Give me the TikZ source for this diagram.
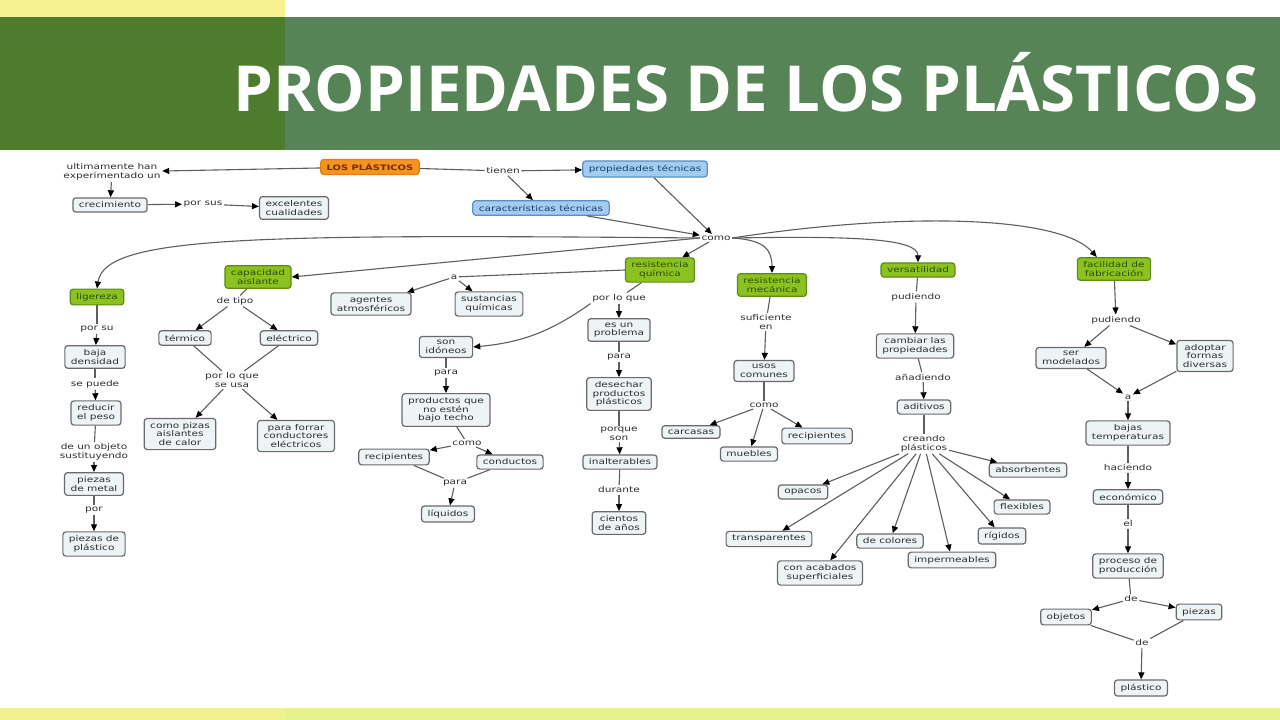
\documentclass[tikz,border=0pt]{standalone}
\usepackage{fontspec}
\usetikzlibrary{arrows.meta}
\newfontfamily\mapfont[FakeStretch=1.32]{DejaVu Sans}
\newfontfamily\titlefont{Open Sans}
\definecolor{hdrdark}{HTML}{4C7C2C}
\definecolor{hdrgreen}{HTML}{568456}
\definecolor{hdryellow}{HTML}{F5F290}
\definecolor{botyellow}{HTML}{E6F38C}
\definecolor{botyellowL}{HTML}{F1F28E}
\definecolor{boxfill}{HTML}{EEF3F6}
\definecolor{boxdraw}{HTML}{6A6A6A}
\definecolor{txtgray}{HTML}{2E2E2E}
\definecolor{greenfill}{HTML}{8CC21F}
\definecolor{greendraw}{HTML}{5C8A18}
\definecolor{greentxt}{HTML}{2C4F0C}
\definecolor{bluefill}{HTML}{A2CCF2}
\definecolor{bluedraw}{HTML}{5A8EC4}
\definecolor{bluetxt}{HTML}{1E3F6A}
\definecolor{orangefill}{HTML}{F7941E}
\definecolor{orangedraw}{HTML}{E5820F}
\definecolor{orangetxt}{HTML}{6A3000}
\definecolor{linegray}{HTML}{5E5E5E}
\tikzset{
 mapfnt/.style={font=\mapfont\fontsize{8}{8.5}\selectfont},
 concept/.style={mapfnt, draw=boxdraw, fill=boxfill, rounded corners=3pt, line width=1.2pt, align=center, inner xsep=6pt, inner ysep=4pt, text=txtgray},
 gconcept/.style={concept, fill=greenfill, draw=greendraw, text=greentxt},
 bconcept/.style={concept, fill=bluefill, draw=bluedraw, text=bluetxt},
 oconcept/.style={concept, fill=orangefill, draw=orangedraw, text=orangetxt, font=\mapfont\bfseries\fontsize{7.5}{8}\selectfont},
 lbl/.style={mapfnt, text=txtgray, align=center, inner sep=1.5pt},
 link/.style={draw=linegray, line width=1.1pt},
 arr/.style={link, -{Triangle[length=7pt,width=6pt,color=black]}},
}
\begin{document}
\begin{tikzpicture}[x=1pt,y=-1pt]
\useasboundingbox (0,0) rectangle (1280,720);
\fill[white] (0,0) rectangle (1280,720);
% header
\fill[hdryellow] (0,0) rectangle (285,17);
\fill[hdrgreen] (0,17) rectangle (1280,150);
\fill[hdrdark] (0,17) rectangle (285,150);
\fill[botyellow] (0,708) rectangle (1280,720);
\fill[botyellowL] (0,708) rectangle (285,720);
\node[anchor=base west, text=white, inner sep=0, font=\titlefont\bfseries\fontsize{63.5}{63.5}\selectfont] (title) at (233,111) {PROPIEDADES DE LOS PLÁSTICOS};

% top
\node[oconcept] (plast) at (370,167) {LOS PLÁSTICOS};
\node[lbl] (ult) at (112,172) {ultimamente han\\experimentado un};
\node[concept] (crec) at (110,205) {crecimiento};
\node[lbl] (porsus) at (203,204) {por sus};
\node[concept] (exc) at (294,208) {excelentes\\cualidades};
\node[lbl] (tienen) at (503,171) {tienen};
\node[bconcept] (prop) at (645,169) {propiedades técnicas};
\node[bconcept] (car) at (541,208) {características técnicas};
\node[lbl] (como) at (716,238) {como};

% ligereza
\node[gconcept] (lig) at (97,297) {ligereza};
\node[lbl] (porsu) at (97,329) {por su};
\node[concept] (baja) at (95,357) {baja\\densidad};
\node[lbl] (sepuede) at (95,384) {se puede};
\node[concept] (reduc) at (96,413) {reducir\\el peso};
\node[lbl] (deun) at (94,452) {de un objeto\\sustituyendo};
\node[concept] (pmetal) at (94,484) {piezas\\de metal};
\node[lbl] (por) at (94,510) {por};
\node[concept] (pplast) at (94,544) {piezas de\\plástico};

% capacidad aislante
\node[gconcept] (cap) at (258,277) {capacidad\\aislante};
\node[lbl] (detipo) at (235,301) {de tipo};
\node[concept] (term) at (185,338) {térmico};
\node[concept] (elec) at (289,338) {eléctrico};
\node[lbl] (usa) at (232,380) {por lo que\\se usa};
\node[concept] (pizas) at (180,434) {como pizas\\aislantes\\de calor};
\node[concept] (forrar) at (296,436) {para forrar\\conductores\\eléctricos};

% resistencia quimica
\node[gconcept] (rq) at (660,270) {resistencia\\química};
\node[lbl] (aa) at (454,277) {a};
\node[concept] (agen) at (371,304) {agentes\\atmosféricos};
\node[concept] (sust) at (489,304) {sustancias\\químicas};
\node[lbl] (porq) at (619,298) {por lo que};
\node[concept] (son) at (446,347) {son\\idóneos};
\node[lbl] (para1) at (446,373) {para};
\node[concept] (prod) at (446,410) {productos que\\no estén\\bajo techo};
\node[lbl] (como2) at (467,443) {como};
\node[concept] (recA) at (394,457) {recipientes};
\node[concept] (cond) at (510,462) {conductos};
\node[lbl] (para2) at (455,483) {para};
\node[concept] (liq) at (448,514) {líquidos};
\node[concept] (prob) at (619,330) {es un\\problema};
\node[lbl] (para3) at (619,357) {para};
\node[concept] (desech) at (619,394) {desechar\\productos\\plásticos};
\node[lbl] (porque) at (619,434) {porque\\son};
\node[concept] (inalt) at (620,462) {inalterables};
\node[lbl] (durante) at (619,490) {durante};
\node[concept] (cientos) at (619,523) {cientos\\de años};

% resistencia mecanica
\node[gconcept] (rm) at (772,285) {resistencia\\mecánica};
\node[lbl] (sufi) at (766,322) {suficiente\\en};
\node[concept] (usos) at (764,371) {usos\\comunes};
\node[lbl] (como3) at (764,405) {como};
\node[concept] (carc) at (691,432) {carcasas};
\node[concept] (mueb) at (749,454) {muebles};
\node[concept] (recB) at (817,436) {recipientes};

% versatilidad
\node[gconcept] (vers) at (918,270) {versatilidad};
\node[lbl] (pud) at (916,297) {pudiendo};
\node[concept] (camb) at (915,346) {cambiar las\\propiedades};
\node[lbl] (anad) at (923,377) {añadiendo};
\node[concept] (adit) at (924,407) {aditivos};
\node[lbl] (crea) at (924,444) {creando\\plásticos};
\node[concept] (absor) at (1028,470) {absorbentes};
\node[concept] (opac) at (803,492) {opacos};
\node[concept] (flex) at (1022,507) {flexibles};
\node[concept] (transp) at (769,539) {transparentes};
\node[concept] (rig) at (1002,536) {rígidos};
\node[concept] (colo) at (890,541) {de colores};
\node[concept] (imper) at (952,560) {impermeables};
\node[concept] (acab) at (820,573) {con acabados\\superficiales};

% facilidad
\node[gconcept] (fac) at (1114,269) {facilidad de\\fabricación};
\node[lbl] (pud2) at (1116,320) {pudiendo};
\node[concept] (ser) at (1071,358) {ser\\modelados};
\node[concept] (adop) at (1205,356) {adoptar\\formas\\diversas};
\node[lbl] (ab) at (1128,397) {a};
\node[concept] (bajas) at (1128,433) {bajas\\temperaturas};
\node[lbl] (hac) at (1128,468) {haciendo};
\node[concept] (econ) at (1128,497) {económico};
\node[lbl] (el) at (1128,524) {el};
\node[concept] (proc) at (1128,566) {proceso de\\producción};
\node[lbl] (de1) at (1131,599) {de};
\node[concept] (obj) at (1066,617) {objetos};
\node[concept] (piez) at (1199,612) {piezas};
\node[lbl] (de2) at (1142,643) {de};
\node[concept] (plas) at (1141,688) {plástico};

% ---- connectors ----
\draw[arr] (plast) -- (ult);
\draw[arr] (ult) -- (crec);
\draw[arr] (crec) -- (porsus);
\draw[arr] (porsus) -- (exc);
\draw[link] (plast) -- (tienen);
\draw[arr] (tienen) -- (prop);
\draw[arr] (tienen) -- (car);
\draw[arr] (prop) -- (como);
\draw[arr] (car) -- (como);

\draw[arr] (como.west) .. controls (250,234) and (105,236) .. (lig.north);
\draw[arr] (como.west) -- (cap.east);
\draw[arr] (como) -- (rq);
\draw[arr] (como.east) .. controls (765,240) and (772,250) .. (rm.north);
\draw[arr] (como.east) .. controls (850,236) and (918,238) .. (vers.north);
\draw[arr] (como.east) .. controls (900,212) and (1060,215) .. ([xshift=20pt]fac.north west);

\draw[link] (lig) -- (porsu);
\draw[arr] (porsu) -- (baja);
\draw[link] (baja) -- (sepuede);
\draw[arr] (sepuede) -- (reduc);
\draw[link] (reduc) -- (deun);
\draw[arr] (deun) -- (pmetal);
\draw[link] (pmetal) -- (por);
\draw[arr] (por) -- (pplast);

\draw[link] (cap) -- (detipo);
\draw[arr] (detipo) -- (term);
\draw[arr] (detipo) -- (elec);
\draw[link] (term) -- (usa);
\draw[link] (elec) -- (usa);
\draw[arr] (usa) -- (pizas);
\draw[arr] (usa) -- (forrar);

\draw[link] (rq.west) -- (aa);
\draw[arr] (aa) -- (agen);
\draw[arr] (aa) -- (sust);
\draw[link] (rq) -- (porq);
\draw[arr] (porq.south west) to[bend left=15] (son.east);
\draw[link] (son) -- (para1);
\draw[arr] (para1) -- (prod);
\draw[link] (prod) -- (como2);
\draw[arr] (como2) -- (recA);
\draw[arr] (como2) -- (cond);
\draw[link] (recA) -- (para2);
\draw[link] (cond) -- (para2);
\draw[arr] (para2) -- (liq);
\draw[arr] (porq) -- (prob);
\draw[link] (prob) -- (para3);
\draw[arr] (para3) -- (desech);
\draw[link] (desech) -- (porque);
\draw[arr] (porque) -- (inalt);
\draw[link] (inalt) -- (durante);
\draw[arr] (durante) -- (cientos);

\draw[link] (rm) -- (sufi);
\draw[arr] (sufi) -- (usos);
\draw[link] (usos) -- (como3);
\draw[arr] (como3) -- (carc);
\draw[arr] (como3) -- (mueb);
\draw[arr] (como3) -- (recB);

\draw[link] (vers) -- (pud);
\draw[arr] (pud) -- (camb);
\draw[link] (camb) -- (anad);
\draw[arr] (anad) -- (adit);
\draw[link] (adit) -- (crea);
\foreach \t in {absor,opac,flex,transp,rig,colo,imper,acab}
  \draw[arr] (crea) -- (\t);

\draw[arr] (fac) -- (pud2);
\draw[arr] (pud2) -- (ser);
\draw[arr] (pud2) -- (adop);
\draw[arr] (ser) -- (ab);
\draw[arr] (adop) -- (ab);
\draw[arr] (ab) -- (bajas);
\draw[link] (bajas) -- (hac);
\draw[arr] (hac) -- (econ);
\draw[link] (econ) -- (el);
\draw[arr] (el) -- (proc);
\draw[link] (proc) -- (de1);
\draw[arr] (de1) -- (obj);
\draw[arr] (de1) -- (piez);
\draw[link] (obj) -- (de2);
\draw[link] (piez) -- (de2);
\draw[arr] (de2) -- (plas);
\end{tikzpicture}
\end{document}
